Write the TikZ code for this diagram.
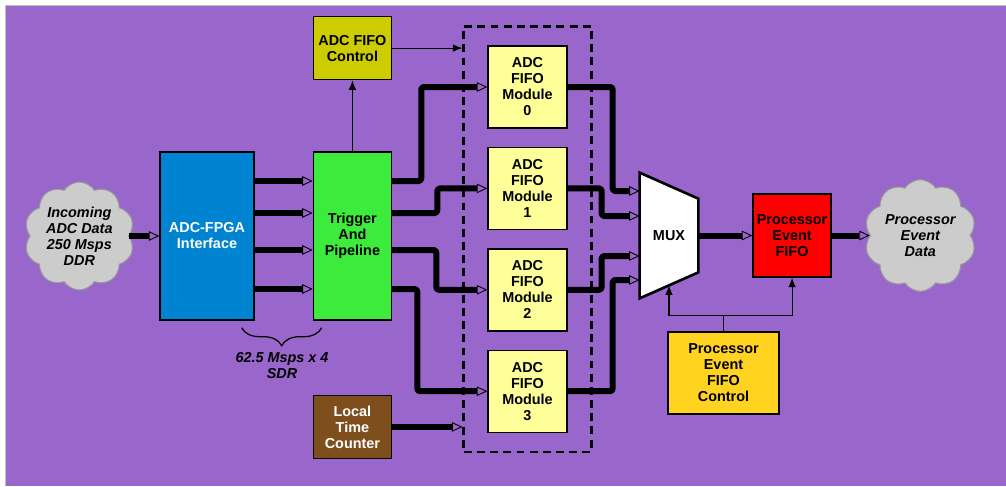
\documentclass[tikz,border=0pt]{standalone}
\usepackage{fontspec}
\setmainfont{Liberation Sans}
\usepackage{xcolor}
\definecolor{bgpurple}{HTML}{9966CC}
\definecolor{ifblue}{HTML}{0084D1}
\definecolor{trgreen}{HTML}{3DEB3D}
\definecolor{ctlolive}{HTML}{CCCC00}
\definecolor{modyellow}{HTML}{FFFF99}
\definecolor{ltcbrown}{HTML}{7E4E1D}
\definecolor{pefred}{HTML}{FF0000}
\definecolor{pefgold}{HTML}{FFD320}
\definecolor{cloudgray}{HTML}{CCCCCC}
\usetikzlibrary{arrows.meta,positioning,shapes.symbols,decorations.pathreplacing,calc,fit}
\tikzset{
  blk/.style={draw=black, line width=0.8pt, align=center, inner sep=1pt,
              font=\bfseries\fontsize{8.2}{9.1}\selectfont},
  bblue/.style={blk, fill=ifblue, text=white, minimum width=1.88cm, minimum height=3.36cm},
  bgreen/.style={blk, fill=trgreen, minimum width=1.56cm, minimum height=3.36cm},
  bolive/.style={blk, fill=ctlolive, minimum width=1.56cm, minimum height=1.26cm},
  bbrown/.style={blk, fill=ltcbrown, text=white, minimum width=1.56cm, minimum height=1.26cm},
  bmod/.style={blk, fill=modyellow, minimum width=1.58cm, minimum height=1.64cm},
  bred/.style={blk, fill=pefred, minimum width=1.56cm, minimum height=1.66cm},
  bgold/.style={blk, fill=pefgold, minimum width=2.22cm, minimum height=1.64cm},
  cld/.style={cloud, cloud puffs=10, cloud puff arc=115, aspect=1, draw=black!40,
              line width=0.6pt, fill=cloudgray, align=center, inner sep=0pt,
              minimum width=2.2cm, minimum height=2.16cm,
              font=\bfseries\itshape\fontsize{8.2}{9.1}\selectfont},
  grpbox/.style={draw=black, line width=1.5pt, dash pattern=on 4.5pt off 3pt},
  muxhold/.style={inner sep=0pt, minimum width=1.16cm, minimum height=2.5cm},
  muxline/.style={draw=black, line width=1.5pt, fill=white, line join=miter},
  muxtxt/.style={inner sep=0pt, font=\bfseries\fontsize{8.2}{9.1}\selectfont},
  note/.style={align=center, inner sep=0pt, font=\bfseries\itshape\fontsize{8.2}{9.1}\selectfont},
  bus/.style={line width=0.12cm, line join=round, rounded corners=1.5pt,
              -{Triangle[length=0.21cm, width=0.19cm, line width=0.5pt, fill=bgpurple]}},
  sig/.style={line width=0.6pt, -{Latex[length=1.9mm, width=1.5mm]}},
}

\begin{document}
\begin{tikzpicture}
  % page and backdrop
  \useasboundingbox (0,0) rectangle (20.12,-9.72);
  \fill[white] (0,0) rectangle (20.12,-9.72);
  \fill[bgpurple] (0.1,-0.11) rectangle (20.12,-9.72);
  \draw[black!25, line width=0.5pt] (0.1,-9.72) |- (20.12,-0.11);

  % input side
  \node[bblue] (fpga) at (4.14,-4.72) {ADC-FPGA\\Interface};
  \node[cld, left=0.6cm of fpga] (incoming) {Incoming\\ADC Data\\250 Msps\\DDR};
  \node[bgreen, right=1.16cm of fpga] (trig) {Trigger\\And\\Pipeline};
  \node[bolive, above=1.42cm of trig] (fctl) {ADC FIFO\\Control};
  \node[bbrown, below=1.48cm of trig] (ltc) {Local\\Time\\Counter};

  % fifo modules
  \node[bmod] (m0) at (10.55,-1.74) {ADC\\FIFO\\Module\\0};
  \node[bmod, below=0.36cm of m0] (m1) {ADC\\FIFO\\Module\\1};
  \node[bmod, below=0.36cm of m1] (m2) {ADC\\FIFO\\Module\\2};
  \node[bmod, below=0.36cm of m2] (m3) {ADC\\FIFO\\Module\\3};
  \node[grpbox, fit=(m0)(m3), inner xsep=0.47cm, inner ysep=0.38cm] (grp) {};

  % mux and output side
  \node[muxhold] (mux) at (13.38,-4.71) {};
  \draw[muxline] (mux.north west) -- ([yshift=-0.52cm]mux.north east)
    -- ([yshift=0.52cm]mux.south east) -- (mux.south west) -- cycle;
  \node[muxtxt] (muxlbl) at (mux) {MUX};
  \coordinate (muxb) at ($(mux.south west)!0.5!([yshift=0.52cm]mux.south east)$);
  \node[bred, right=1.08cm of mux] (pef) {Processor\\Event\\FIFO};
  \node[cld, right=0.76cm of pef] (outgoing) {Processor\\Event\\Data};
  \node[bgold] (pefc) at (14.47,-7.46) {Processor\\Event\\FIFO\\Control};

  % wide data paths
  \draw[bus] (incoming.east) -- (fpga.west);
  \draw[bus] ([yshift=1.1cm]fpga.east) -- ([yshift=1.1cm]trig.west);
  \draw[bus] ([yshift=0.46cm]fpga.east) -- ([yshift=0.46cm]trig.west);
  \draw[bus] ([yshift=-0.28cm]fpga.east) -- ([yshift=-0.28cm]trig.west);
  \draw[bus] ([yshift=-1.06cm]fpga.east) -- ([yshift=-1.06cm]trig.west);
  \draw[bus] ([yshift=1.1cm]trig.east) -| ([xshift=-1.32cm]m0.west) -- (m0.west);
  \draw[bus] ([yshift=0.46cm]trig.east) -| ([xshift=-1.0cm]m1.west) -- (m1.west);
  \draw[bus] ([yshift=-0.28cm]trig.east) -| ([xshift=-1.02cm]m2.west) -- (m2.west);
  \draw[bus] ([yshift=-1.06cm]trig.east) -| ([xshift=-1.4cm]m3.west) -- (m3.west);
  \draw[bus] (ltc.east) -- (ltc.east -| grp.west);
  \draw[bus] (m0.east) -| ([xshift=-0.54cm,yshift=0.89cm]mux.west) -- ([yshift=0.89cm]mux.west);
  \draw[bus] (m1.east) -| ([xshift=-0.76cm,yshift=0.39cm]mux.west) -- ([yshift=0.39cm]mux.west);
  \draw[bus] (m2.east) -| ([xshift=-0.76cm,yshift=-0.41cm]mux.west) -- ([yshift=-0.41cm]mux.west);
  \draw[bus] (m3.east) -| ([xshift=-0.54cm,yshift=-0.89cm]mux.west) -- ([yshift=-0.89cm]mux.west);
  \draw[bus] (mux.east) -- (pef.west);
  \draw[bus] (pef.east) -- (outgoing.west);

  % control lines
  \draw[sig] (trig.north) -- (fctl.south);
  \draw[sig] (fctl.east) -- (fctl.east -| grp.west);
  \draw[line width=0.6pt] (pefc.north) -- ++(0,0.32) coordinate (pj);
  \draw[sig] (pj) -| (muxb);
  \draw[sig] (pj) -| (pef.south);

  % rate brace
  \draw[line width=0.7pt, decorate, decoration={brace, mirror, amplitude=0.36cm}]
    ([xshift=-0.26cm,yshift=-0.14cm]fpga.south east) -- ([xshift=0.18cm,yshift=-0.14cm]trig.south west);
  \node[note] (rate) at (5.64,-7.32) {62.5 Msps x 4\\SDR};
\end{tikzpicture}
\end{document}
